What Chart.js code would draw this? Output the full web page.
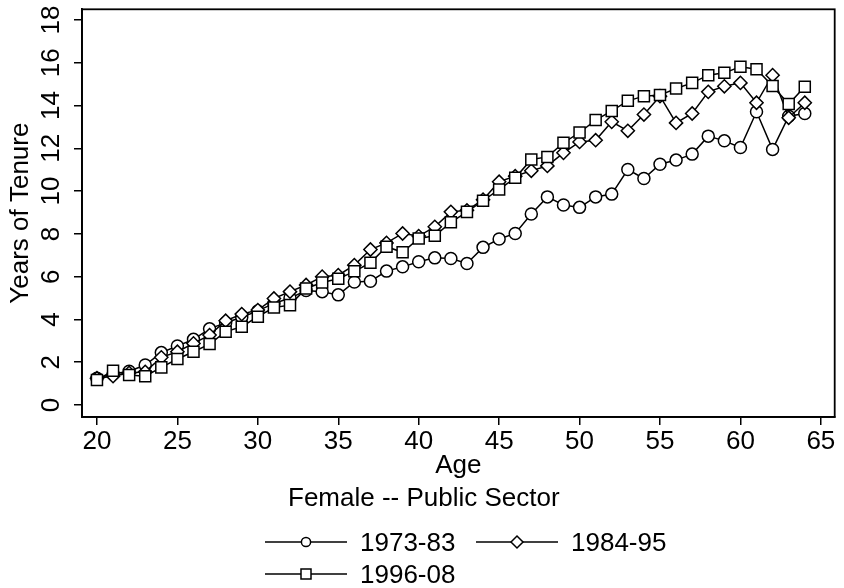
<!DOCTYPE html>
<html><head><meta charset="utf-8">
<script src="https://cdn.jsdelivr.net/npm/chart.js@4.4.0/dist/chart.umd.min.js"></script>
<style>
html,body{margin:0;padding:0;background:#fff;}
#wrap{position:relative;width:844px;height:588px;overflow:hidden;font-family:"Liberation Sans",Arial,sans-serif;color:#000;background:#fff;}
canvas{position:absolute;left:0;top:0;}
.t{position:absolute;font-size:26px;line-height:30px;white-space:nowrap;}
.s{position:absolute;}
</style></head><body>
<div id="wrap"><canvas id="c" width="844" height="588"></canvas>
<div id="sub" class="t" style="left:288px;top:482px">Female -- Public Sector</div>
<div id="legend"></div>
</div>
<script>
// ---- data ----
const ages = [20,21,22,23,24,25,26,27,28,29,30,31,32,33,34,35,36,37,38,39,40,41,42,43,44,45,46,47,48,49,50,51,52,53,54,55,56,57,58,59,60,61,62,63,64];
const s1973_83 = [1.25,1.45,1.58,1.87,2.45,2.76,3.07,3.56,3.85,4.10,4.40,4.75,5.00,5.35,5.30,5.15,5.75,5.79,6.26,6.46,6.70,6.88,6.85,6.62,7.37,7.76,8.02,8.93,9.73,9.35,9.24,9.73,9.86,11.01,10.59,11.26,11.45,11.73,12.57,12.35,12.04,13.71,11.95,13.50,13.63];
const s1984_95 = [1.25,1.35,1.50,1.55,2.23,2.49,2.88,3.27,3.94,4.25,4.44,4.98,5.30,5.61,6.00,6.07,6.54,7.27,7.58,8.02,7.90,8.33,9.03,9.10,9.60,10.44,10.70,10.95,11.18,11.79,12.30,12.38,13.24,12.82,13.58,14.44,13.19,13.63,14.64,14.90,15.06,14.13,15.42,13.43,14.13];
const s1996_08 = [1.17,1.60,1.40,1.35,1.76,2.15,2.49,2.85,3.43,3.66,4.13,4.56,4.67,5.45,5.73,5.90,6.25,6.65,7.40,7.14,7.79,7.91,8.54,9.03,9.55,10.08,10.62,11.48,11.60,12.26,12.74,13.32,13.75,14.22,14.44,14.49,14.80,15.06,15.42,15.53,15.81,15.70,14.91,14.07,14.88];
const seriesLabels = ['1973-83','1984-95','1996-08'];
const xTicks = [20,25,30,35,40,45,50,55,60,65];
const yTicks = [0,2,4,6,8,10,12,14,16,18];
const xTitle = 'Age';
const yTitle = 'Years of Tenure';

// ---- chart ----
const FONT = '"Liberation Sans", Arial, sans-serif';
Chart.defaults.font.family = FONT;
Chart.defaults.font.size = 26;
Chart.defaults.color = '#000';

function pts(arr){ return ages.map((a,i)=>({x:a,y:arr[i]})); }
const styles = [
  {pointStyle:'circle', pointRadius:6, order:2},
  {pointStyle:'rectRot', pointRadius:6.6, order:1},
  {pointStyle:'rect', pointRadius:7.8, order:0}
];
const seriesData = [s1973_83, s1984_95, s1996_08];

const framePlugin = {
  id:'frame',
  afterDraw(chart){
    const {ctx, chartArea:a} = chart;
    ctx.save();
    ctx.strokeStyle = '#000';
    ctx.lineWidth = 1.8;
    ctx.strokeRect(a.left, a.top, a.right - a.left, a.bottom - a.top);
    ctx.restore();
  }
};

new Chart(document.getElementById('c'), {
  type:'line',
  data:{
    datasets: seriesData.map((d,i)=>({
      label: seriesLabels[i],
      data: pts(d),
      borderColor:'#000',
      borderWidth:1.5,
      pointBackgroundColor:'#fff',
      pointBorderColor:'#000',
      pointBorderWidth:1.5,
      pointStyle: styles[i].pointStyle,
      pointRadius: styles[i].pointRadius,
      pointHoverRadius: styles[i].pointRadius,
      order: styles[i].order,
      tension:0,
      fill:false
    }))
  },
  options:{
    responsive:false,
    animation:false,
    events:[],
    layout:{padding:{left:0,right:4,top:9,bottom:107}},
    plugins:{legend:{display:false}, tooltip:{enabled:false}},
    scales:{
      x:{
        type:'linear', min:19.07, max:65.86,
        afterBuildTicks(s){ s.ticks = xTicks.map(v=>({value:v})); },
        afterFit(s){ s.height = 64; s.paddingLeft = 0; s.paddingRight = 0; },
        ticks:{padding:1, maxRotation:0, minRotation:0, autoSkip:false, callback:v=>String(v)},
        grid:{drawOnChartArea:false, drawTicks:true, tickLength:8, color:'#000', lineWidth:1.5},
        border:{display:true, color:'#000', width:1.8},
        title:{display:true, text:xTitle, padding:{top:0,bottom:0}}
      },
      y:{
        type:'linear', min:-0.56, max:18.5,
        afterBuildTicks(s){ s.ticks = yTicks.map(v=>({value:v})); },
        afterFit(s){ s.width = 82; s.paddingTop = 0; s.paddingBottom = 0; },
        ticks:{padding:7.5, minRotation:90, maxRotation:90, crossAlign:'center', autoSkip:false, callback:v=>String(v)},
        grid:{drawOnChartArea:false, drawTicks:true, tickLength:8, color:'#000', lineWidth:1.5},
        border:{display:true, color:'#000', width:1.8},
        title:{display:true, text:yTitle, padding:{top:5,bottom:0}}
      }
    }
  },
  plugins:[framePlugin]
});

// ---- legend (HTML) ----
const legendPos = [{x:265,y:527},{x:476,y:527},{x:265,y:559}];
const svgNS = 'http://www.w3.org/2000/svg';
const lg = document.getElementById('legend');
seriesLabels.forEach((lab,i)=>{
  const p = legendPos[i];
  const svg = document.createElementNS(svgNS,'svg');
  svg.setAttribute('width','82'); svg.setAttribute('height','30');
  svg.setAttribute('class','s');
  svg.style.left = p.x+'px'; svg.style.top = p.y+'px';
  const ln = document.createElementNS(svgNS,'line');
  ln.setAttribute('x1','0'); ln.setAttribute('x2','82'); ln.setAttribute('y1','15'); ln.setAttribute('y2','15');
  ln.setAttribute('stroke','#000'); ln.setAttribute('stroke-width','1.5');
  svg.appendChild(ln);
  let m;
  if (styles[i].pointStyle==='circle'){
    m = document.createElementNS(svgNS,'circle');
    m.setAttribute('cx','41'); m.setAttribute('cy','15'); m.setAttribute('r','4.6');
  } else if (styles[i].pointStyle==='rectRot'){
    m = document.createElementNS(svgNS,'polygon');
    m.setAttribute('points','35,15 41,9 47,15 41,21');
  } else {
    m = document.createElementNS(svgNS,'rect');
    m.setAttribute('x','36'); m.setAttribute('y','10'); m.setAttribute('width','10'); m.setAttribute('height','10');
  }
  m.setAttribute('fill','#fff'); m.setAttribute('stroke','#000'); m.setAttribute('stroke-width','1.5');
  svg.appendChild(m);
  lg.appendChild(svg);
  const t = document.createElement('div');
  t.className = 't';
  t.textContent = lab;
  t.style.left = (p.x+95)+'px'; t.style.top = p.y+'px';
  lg.appendChild(t);
});
</script>
</body></html>
